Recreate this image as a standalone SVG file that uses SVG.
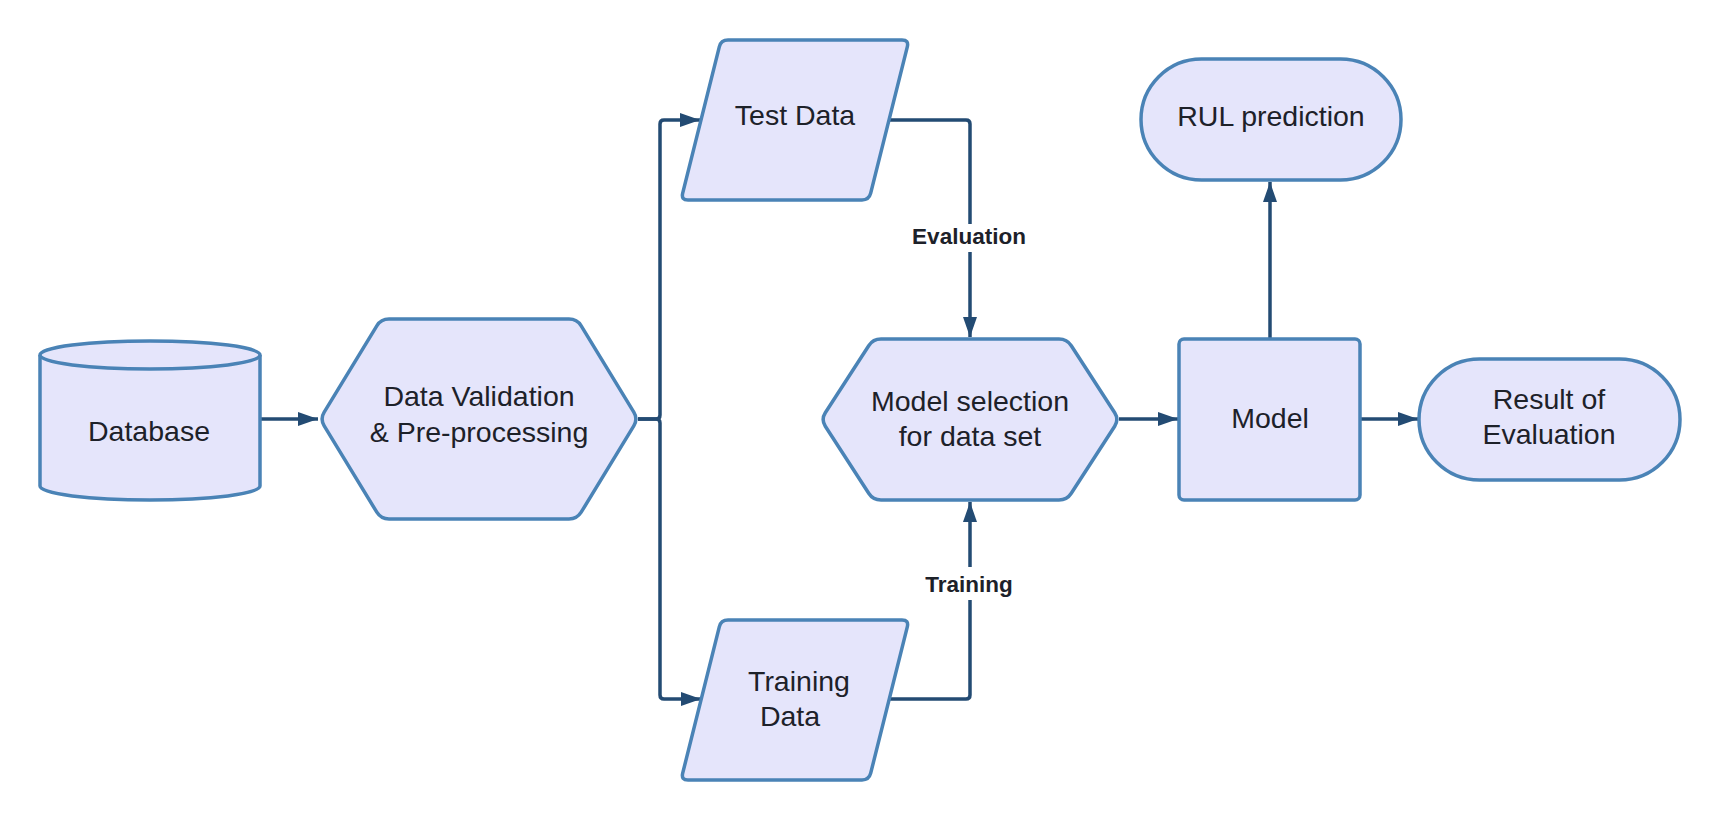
<svg xmlns="http://www.w3.org/2000/svg" width="1720" height="820" viewBox="0 0 1720 820">
<style>
.node{fill:#E5E5FB;stroke:#4A83B6;stroke-width:3.5;stroke-linejoin:round}
.t{font-family:"Liberation Sans",Arial,sans-serif;font-size:28.5px;fill:#1D2129;text-anchor:middle}
.lbl{font-family:"Liberation Sans",Arial,sans-serif;font-size:22.5px;font-weight:bold;fill:#1D2129;text-anchor:middle}
.c{fill:none;stroke:#234B73;stroke-width:3.5;stroke-linejoin:round}
</style>
<defs>
<marker id="ah" markerUnits="userSpaceOnUse" markerWidth="20" markerHeight="14" refX="20" refY="7" orient="auto">
<path d="M0,0 L20,7 L0,14 Z" fill="#234B73"/>
</marker>
</defs>
<rect width="1720" height="820" fill="#FFFFFF"/>
<g id="connectors">
<path class="c" d="M260,419 L318,419" marker-end="url(#ah)"/>
<path class="c" d="M638,419 L656,419 Q660,419 660,415 L660,124 Q660,120 664,120 L700,120" marker-end="url(#ah)"/>
<path class="c" d="M638,419 L656,419 Q660,419 660,423 L660,695 Q660,699 664,699 L701,699" marker-end="url(#ah)"/>
<path class="c" d="M890,120 L966,120 Q970,120 970,124 L970,337" marker-end="url(#ah)"/>
<path class="c" d="M890,699 L966,699 Q970,699 970,695 L970,502" marker-end="url(#ah)"/>
<path class="c" d="M1119,419 L1178,419" marker-end="url(#ah)"/>
<path class="c" d="M1270,339 L1270,182" marker-end="url(#ah)"/>
<path class="c" d="M1360,419 L1418,419" marker-end="url(#ah)"/>
<rect x="904" y="224" width="132" height="28" fill="#FFFFFF"/>
<text class="lbl" x="969" y="243.5">Evaluation</text>
<rect x="918" y="567" width="102" height="33" fill="#FFFFFF"/>
<text class="lbl" x="969" y="592">Training</text>
</g>
<g id="database">
<path class="node" d="M40,355 L40,486 A110,14 0 0 0 260,486 L260,355"/>
<ellipse class="node" cx="150" cy="355" rx="110" ry="14"/>
<text class="t" x="149" y="441">Database</text>
</g>
<g id="validation">
<path class="node" d="M389,319 L569,319 Q577,319 581.2,325.8 L633.8,412.2 Q638,419 633.8,425.8 L581.2,512.2 Q577,519 569,519 L389,519 Q381,519 376.8,512.2 L324.2,425.8 Q320,419 324.2,412.2 L376.8,325.8 Q381,319 389,319 Z"/>
<text class="t" x="479" y="406">Data Validation</text>
<text class="t" x="479" y="442">&amp; Pre-processing</text>
</g>
<g id="testdata">
<path class="node" d="M728,40 L902,40 Q909,40 907.3,46.8 L870.7,193.2 Q869,200 862,200 L688,200 Q681,200 682.7,193.2 L719.3,46.8 Q721,40 728,40 Z"/>
<text class="t" x="795" y="125">Test Data</text>
</g>
<g id="trainingdata">
<path class="node" d="M728,620 L902,620 Q909,620 907.3,626.8 L870.7,773.2 Q869,780 862,780 L688,780 Q681,780 682.7,773.2 L719.3,626.8 Q721,620 728,620 Z"/>
<text class="t" x="799" y="691">Training</text>
<text class="t" x="790" y="726">Data</text>
</g>
<g id="modelselection">
<path class="node" d="M881,339 L1059,339 Q1067,339 1071.3,345.7 L1114.7,412.8 Q1119,419.5 1114.7,426.2 L1071.3,493.3 Q1067,500 1059,500 L881,500 Q873,500 868.7,493.3 L825.3,426.2 Q821,419.5 825.3,412.8 L868.7,345.7 Q873,339 881,339 Z"/>
<text class="t" x="970" y="411">Model selection</text>
<text class="t" x="970" y="446">for data set</text>
</g>
<g id="model">
<rect class="node" x="1179" y="339" width="181" height="161" rx="5"/>
<text class="t" x="1270" y="428">Model</text>
</g>
<g id="rul">
<rect class="node" x="1141" y="59" width="260" height="121" rx="60.5"/>
<text class="t" x="1271" y="126">RUL prediction</text>
</g>
<g id="result">
<rect class="node" x="1419" y="359" width="261" height="121" rx="60.5"/>
<text class="t" x="1549" y="409">Result of</text>
<text class="t" x="1549" y="444">Evaluation</text>
</g>
</svg>
